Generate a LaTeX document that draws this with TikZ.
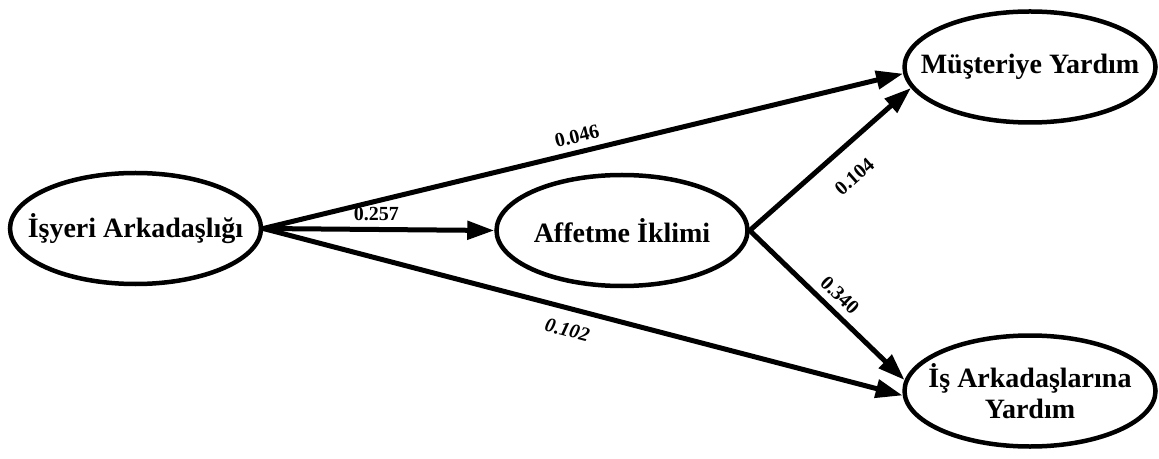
\documentclass[tikz,border=0pt]{standalone}
\usepackage{fontspec}
\setmainfont{Liberation Serif}
\usetikzlibrary{shapes.geometric,arrows.meta}
\begin{document}
\begin{tikzpicture}[x=0.5pt,y=-0.5pt,
  ell/.style={draw,ellipse,line width=2.25pt,minimum width=125.5pt,minimum height=55.5pt,inner sep=0pt},
  ltxt/.style={font=\fontsize{14}{15.5}\selectfont\bfseries,align=center,inner sep=0pt},
  conn/.style={line width=2.5pt,-{Triangle[length=13.5pt,width=9pt]}},
  coef/.style={font=\fontsize{10}{12}\selectfont\bfseries},
  coefi/.style={font=\fontsize{10}{12}\selectfont\bfseries\itshape},
  ]
\useasboundingbox (0,0) rectangle (1159,459);
\node[ell] (a) at (135.5,228.5) {};
\node[ell] (c) at (622,230.5) {};
\node[ell] (m) at (1030,67) {};
\node[ell] (i) at (1030,391) {};
\node[ltxt] (at) at (a) {İşyeri Arkadaşlığı};
\node[ltxt] (ct) at (c) {Affetme İklimi};
\node[ltxt] (mt) at (m) {Müşteriye Yardım};
\node[ltxt] (it) at (i) {İş Arkadaşlarına\\Yardım};
\draw[conn] (a.east) -- node[coef,sloped,above,pos=0.496]{0.046} (m.183);
\draw[conn] (a.east) -- node[coef,above,pos=0.49]{0.257} (c.west);
\draw[conn] (a.east) -- node[coefi,sloped,below=2.7pt,pos=0.484]{0.102} (i.182);
\draw[conn] (c.east) -- node[coef,sloped,below=6.5pt,pos=0.53]{0.104} (m.190);
\draw[conn] (c.east) -- node[coef,sloped,above,pos=0.51]{0.340} (i.175);
\end{tikzpicture}
\end{document}
